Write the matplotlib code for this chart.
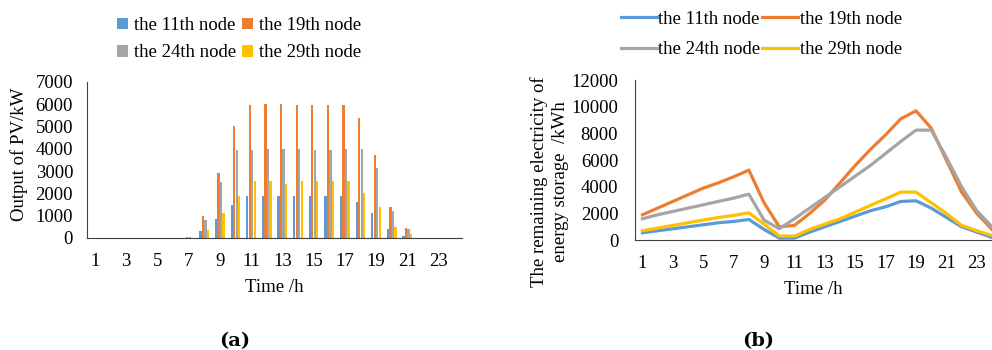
import matplotlib.pyplot as plt
import numpy as np

hours = np.arange(1, 25)
nodes = ['the 11th node', 'the 19th node', 'the 24th node', 'the 29th node']
colors = ['#5B9BD5', '#ED7D31', '#A5A5A5', '#FFC000']

# (a) PV output, kW (zero outside 7..21 h)
pv_11 = [0, 0, 0, 0, 0, 0, 20, 300, 850, 1500, 1900, 1900, 1900, 1900, 1900, 1900, 1900, 1600, 1100, 400, 100, 0, 0, 0]
pv_19 = [0, 0, 0, 0, 0, 0, 50, 1000, 2900, 5000, 5950, 6000, 6000, 5950, 5950, 5950, 5950, 5400, 3700, 1400, 450, 0, 0, 0]
pv_24 = [0, 0, 0, 0, 0, 0, 50, 800, 2500, 3950, 3950, 4000, 3980, 4000, 3950, 3950, 4000, 4000, 3150, 1200, 400, 0, 0, 0]
pv_29 = [0, 0, 0, 0, 0, 0, 0, 350, 1100, 1900, 2550, 2550, 2400, 2550, 2550, 2550, 2550, 2000, 1400, 500, 180, 0, 0, 0]

# (b) remaining electricity of energy storage, kWh
es_11 = [550, 700, 850, 1000, 1150, 1300, 1400, 1550, 800, 150, 150, 600, 1000, 1400, 1800, 2200, 2500, 2900, 2950, 2400, 1700, 1000, 600, 200]
es_19 = [1900, 2400, 2900, 3400, 3900, 4300, 4750, 5250, 2800, 1000, 1100, 2000, 3000, 4300, 5600, 6800, 7900, 9100, 9700, 8400, 6000, 3600, 2000, 800]
es_24 = [1600, 1900, 2150, 2400, 2650, 2900, 3150, 3450, 1500, 850, 1600, 2400, 3200, 4000, 4800, 5600, 6500, 7400, 8250, 8250, 6200, 4000, 2200, 1000]
es_29 = [700, 900, 1100, 1300, 1500, 1700, 1850, 2050, 1200, 300, 300, 800, 1200, 1600, 2100, 2600, 3100, 3600, 3600, 2800, 2000, 1100, 700, 350]

plt.rcParams['font.family'] = ['Liberation Serif', 'DejaVu Serif']
fs = 13.5

fig = plt.figure(figsize=(9.92, 3.5), dpi=100)
ax1 = fig.add_axes([0.0877, 0.32, 0.378, 0.446])
ax2 = fig.add_axes([0.640, 0.314, 0.360, 0.457])

# legend fills column by column, so reorder to get rows 11/19 and 24/29
order = [0, 2, 1, 3]

# bars
offsets = [-0.24, -0.08, 0.08, 0.24]
bars = []
for vals, off, c, lab in zip([pv_11, pv_19, pv_24, pv_29], offsets, colors, nodes):
    bars.append(ax1.bar(hours + off, vals, width=0.14, color=c, label=lab, linewidth=0))
ax1.set_xlim(0.5, 24.5)
ax1.set_ylim(0, 7000)
ax1.set_yticks(np.arange(0, 7001, 1000))
ax1.set_xticks(np.arange(1, 24, 2))
ax1.set_xlabel('Time /h', fontsize=fs, labelpad=6)
fig.text(0.019, 0.56, 'Output of PV/kW', rotation=90, ha='center', va='center', fontsize=fs)
fig.legend([bars[i] for i in order], [nodes[i] for i in order],
           loc='upper left', bbox_to_anchor=(0.118, 0.951), ncol=2, frameon=False,
           fontsize=fs, handlelength=0.6, handleheight=0.6, handletextpad=0.3,
           columnspacing=0.3, labelspacing=0.55, borderaxespad=0, borderpad=0)

# lines
lines = []
for vals, c, lab in zip([es_11, es_19, es_24, es_29], colors, nodes):
    lines.append(ax2.plot(hours, vals, color=c, lw=2.3, label=lab)[0])
ax2.set_xlim(0.5, 24.0)
ax2.set_ylim(0, 12000)
ax2.set_yticks(np.arange(0, 12001, 2000))
ax2.set_xticks(np.arange(1, 24, 2))
ax2.set_xlabel('Time /h', fontsize=fs, labelpad=6)
fig.text(0.554, 0.48, 'The remaining electricity of\nenergy storage  /kWh', rotation=90,
         ha='center', va='center', fontsize=fs, linespacing=1.25, multialignment='center')
fig.legend([lines[i] for i in order], [nodes[i] for i in order],
           loc='upper left', bbox_to_anchor=(0.626, 0.969), ncol=2, frameon=False,
           fontsize=fs, handlelength=1.9, handletextpad=0.1,
           columnspacing=0.1, labelspacing=0.7, borderaxespad=0, borderpad=0)

for ax in (ax1, ax2):
    for s in ('top', 'right'):
        ax.spines[s].set_visible(False)
    ax.spines['left'].set_color('#404040')
    ax.spines['bottom'].set_color('#404040')
    ax.tick_params(length=0, labelsize=fs)
    ax.tick_params(axis='x', pad=11)
ax1.tick_params(axis='y', pad=10)
ax2.tick_params(axis='y', pad=12)

fig.text(0.237, 0.01, '(a)', ha='center', fontsize=14, fontweight='bold', family='DejaVu Serif')
fig.text(0.764, 0.01, '(b)', ha='center', fontsize=14, fontweight='bold', family='DejaVu Serif')

fig.savefig('out.png', dpi=100)
